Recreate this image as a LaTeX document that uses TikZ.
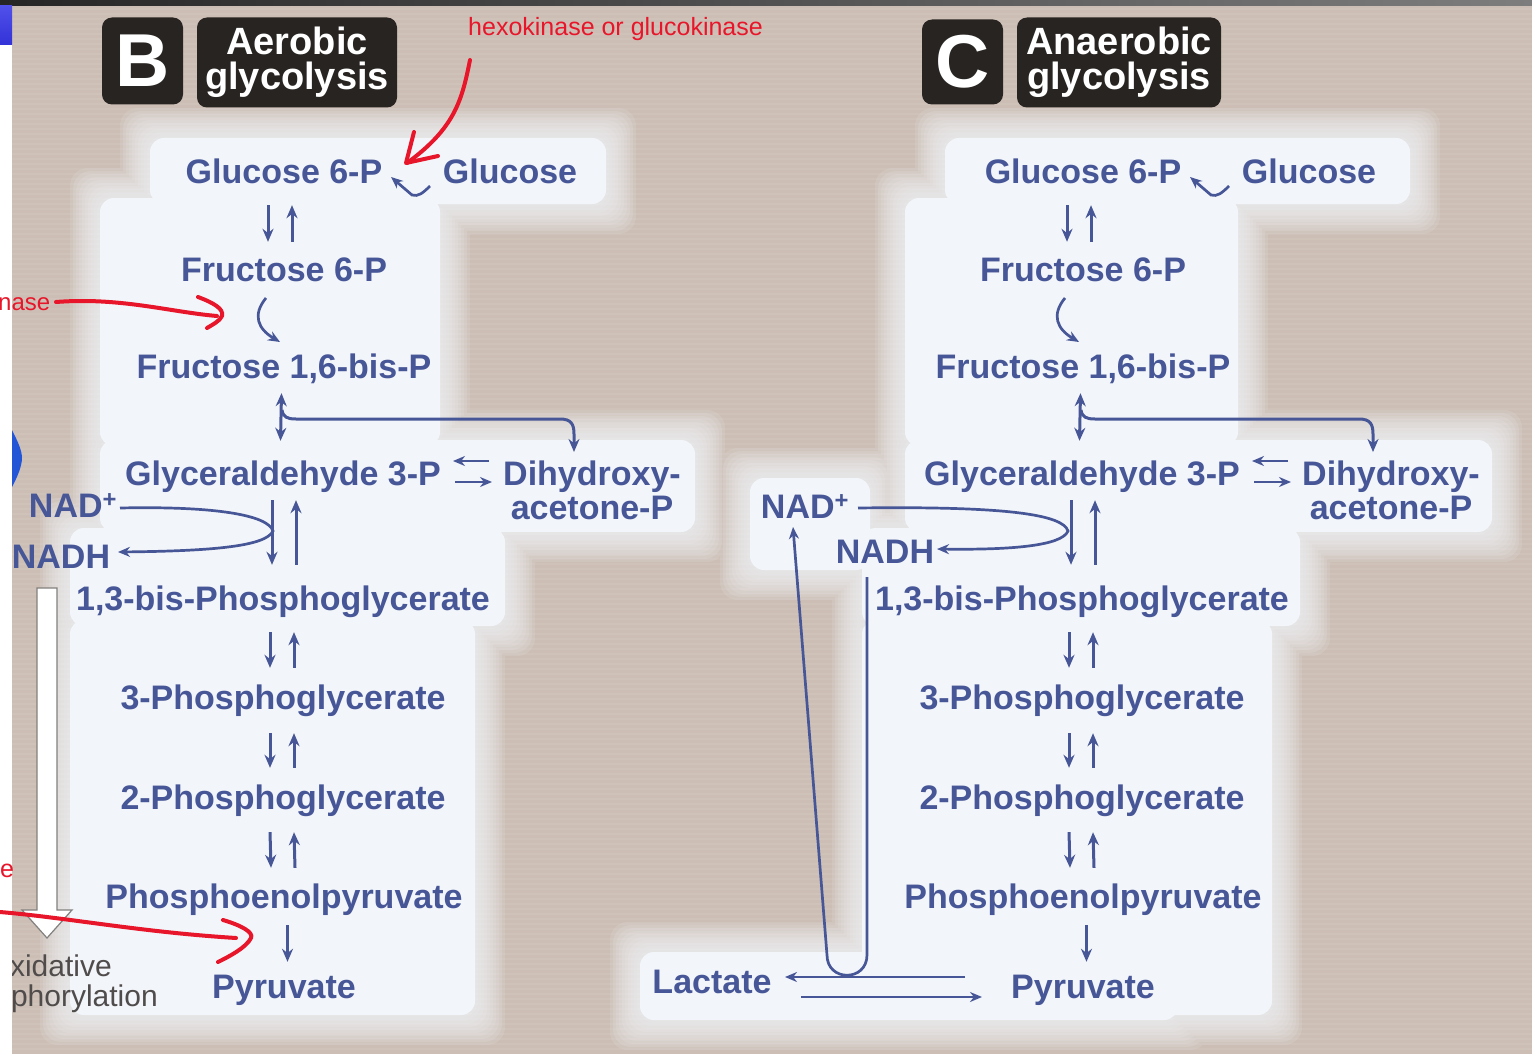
\documentclass[tikz,border=0pt]{standalone}
\usepackage{fontspec}
\setmainfont{Liberation Sans}
\usetikzlibrary{arrows.meta}
\definecolor{bgc}{RGB}{204,190,180}
\definecolor{glowc}{RGB}{242,245,250}
\definecolor{labc}{RGB}{70,86,150}
\definecolor{redc}{RGB}{232,22,42}
\definecolor{badgec}{RGB}{40,36,34}
\definecolor{oxc}{RGB}{80,76,76}
\definecolor{chevc}{RGB}{35,85,215}
\definecolor{arrgray}{RGB}{130,128,126}
\tikzset{
  lbl/.style={text=labc, font=\fontsize{34}{38}\selectfont\bfseries, inner sep=0pt, anchor=base, text height=25pt, text depth=7pt},
  rx/.style={draw=labc, line width=3pt, -{Stealth[length=13pt,width=11pt]}},
  rxs/.style={draw=labc, line width=2.7pt, -{Stealth[length=12pt,width=10pt]}},
  rxx/.style={draw=labc, line width=3pt, {Stealth[length=13pt,width=11pt]}-{Stealth[length=13pt,width=11pt]}},
  redline/.style={draw=redc, line width=4pt, line cap=round, line join=round},
  redtext/.style={text=redc, font=\fontsize{25}{28}\selectfont, inner sep=0pt},
  badgebox/.style={fill=badgec, rounded corners=10pt, text=white, inner sep=0pt},
  oxtext/.style={text=oxc, font=\fontsize{30}{32}\selectfont, inner sep=0pt},
  glowpath/.style={insert path={
    ({150-#1},{138-#1}) rectangle ({606+#1},{204+#1})
    ({100-#1},{198-#1}) rectangle ({440+#1},{446+#1})
    ({100-#1},{440-#1}) rectangle ({695+#1},{532+#1})
    ({70-#1},{528-#1}) rectangle ({505+#1},{626+#1})
    ({70-#1},{620-#1}) rectangle ({475+#1},{1015+#1})
    ({945-#1},{138-#1}) rectangle ({1410+#1},{204+#1})
    ({905-#1},{198-#1}) rectangle ({1238+#1},{446+#1})
    ({905-#1},{440-#1}) rectangle ({1492+#1},{532+#1})
    ({862-#1},{528-#1}) rectangle ({1300+#1},{626+#1})
    ({862-#1},{620-#1}) rectangle ({1272+#1},{1015+#1})
    ({640-#1},{952-#1}) rectangle ({1178+#1},{1020+#1})
    ({750-#1},{478-#1}) rectangle ({870+#1},{570+#1})
  }}
}
\begin{document}
\begin{tikzpicture}[x=1pt,y=-1pt]
\useasboundingbox (0,0) rectangle (1532,1054);
\fill[bgc] (0,0) rectangle (1532,1054);
\foreach \yy in {9,14,...,1050}{\draw[white, opacity=0.07, line width=1.3pt] (12,\yy) -- (1532,\yy);}
% soft whitish glow behind the pathways
\foreach \e in {30,27,...,3}{\fill[glowc, opacity=0.13, rounded corners=18pt, glowpath=\e];}
\fill[glowc, rounded corners=14pt, glowpath=0];
% top bar
\shade[left color={rgb,255:red,38;green,38;blue,38}, right color={rgb,255:red,125;green,125;blue,125}] (0,0) rectangle (1532,6);
\shade[top color={rgb,255:red,80;green,80;blue,235}, bottom color={rgb,255:red,50;green,50;blue,215}] (0,6) rectangle (12,45);

% headers
\node[badgebox, minimum width=81pt, minimum height=87pt, font=\fontsize{75}{75}\selectfont\bfseries] (hB) at (142.5,61) {B};
\node[badgebox, minimum width=200pt, minimum height=90pt, align=center, font=\fontsize{38}{35}\selectfont\bfseries] (hBt) at (297,62.5) {Aerobic\\glycolysis};
\node[badgebox, minimum width=81pt, minimum height=85pt, font=\fontsize{75}{75}\selectfont\bfseries] (hC) at (962.5,62) {C};
\node[badgebox, minimum width=204pt, minimum height=90pt, align=center, font=\fontsize{38}{35}\selectfont\bfseries] (hCt) at (1119,62.5) {Anaerobic\\glycolysis};

% both pathways
\foreach \o/\p in {0/B,799/C}{
  \node[lbl] (g6p\p) at ({284+\o},184) {Glucose 6-P};
  \node[lbl] (glc\p) at ({510+\o},184) {Glucose};
  \node[lbl] (f6p\p) at ({284+\o},281) {Fructose 6-P};
  \node[lbl] (fbp\p) at ({284+\o},378) {Fructose 1,6-bis-P};
  \node[lbl] (gap\p) at ({283+\o},485) {Glyceraldehyde 3-P};
  \node[lbl] (dha\p) at ({592+\o},485) {Dihydroxy-};
  \node[lbl] (dhb\p) at ({592+\o},519) {acetone-P};
  \node[lbl] (bpg\p) at ({283+\o},610) {1,3-bis-Phosphoglycerate};
  \node[lbl] (pgc\p) at ({283+\o},709) {3-Phosphoglycerate};
  \node[lbl] (pgb\p) at ({283+\o},809) {2-Phosphoglycerate};
  \node[lbl] (pep\p) at ({284+\o},908) {Phosphoenolpyruvate};
  \node[lbl] (pyr\p) at ({284+\o},998) {Pyruvate};
  % glucose -> glucose 6-P hook
  \draw[rxs] ({430+\o},186) .. controls ({423+\o},193) and ({418+\o},197) .. ({412+\o},195) -- ({391+\o},177);
  % G6P <-> F6P
  \draw[rx] ([xshift=-16pt,yshift=-14pt]g6p\p.south) -- ([xshift=-16pt,yshift=14pt]f6p\p.north);
  \draw[rx] ([xshift=8pt,yshift=14pt]f6p\p.north) -- ([xshift=8pt,yshift=-14pt]g6p\p.south);
  % F6P -> F1,6bP hook
  \draw[rxs] ({266+\o},298) .. controls ({252+\o},315) and ({258+\o},329) .. ({280+\o},342);
  % F1,6bP <-> GAP with branch to DHAP
  \draw[rxx] ([xshift=-2.5pt,yshift=-8pt]fbp\p.south) -- ([xshift=-2.5pt,yshift=19pt]gap\p.north);
  \draw[rx] ({282+\o},410) .. controls ({283+\o},417) and ({287+\o},419) .. ({296+\o},419) -- ({560+\o},419) .. controls ({571+\o},419) and ({574+\o},424) .. ({574+\o},434) -- ({574+\o},452);
  % GAP <-> DHAP
  \draw[rxs] ({489+\o},461) -- ({453+\o},461);
  \draw[rxs] ({455+\o},482) -- ({492+\o},482);
  % GAP <-> 1,3-bPG
  \draw[rx] ([xshift=-11pt,yshift=-8pt]gap\p.south) -- ([xshift=-11pt,yshift=20pt]bpg\p.north);
  \draw[rx] ([xshift=13pt,yshift=20pt]bpg\p.north) -- ([xshift=13pt,yshift=-8pt]gap\p.south);
  % 1,3-bPG <-> 3PG
  \draw[rx] ([xshift=-13pt,yshift=-15pt]bpg\p.south) -- ([xshift=-13pt,yshift=16pt]pgc\p.north);
  \draw[rx] ([xshift=11pt,yshift=16pt]pgc\p.north) -- ([xshift=11pt,yshift=-15pt]bpg\p.south);
  % 3PG <-> 2PG
  \draw[rx] ([xshift=-13pt,yshift=-17pt]pgc\p.south) -- ([xshift=-13pt,yshift=16pt]pgb\p.north);
  \draw[rx] ([xshift=11pt,yshift=16pt]pgb\p.north) -- ([xshift=11pt,yshift=-17pt]pgc\p.south);
  % 2PG <-> PEP
  \draw[rx] ([xshift=-13pt,yshift=-16pt]pgb\p.south) -- ([xshift=-13pt,yshift=15pt]pep\p.north);
  \draw[rx] ([xshift=11pt,yshift=15pt]pep\p.north) -- ([xshift=11pt,yshift=-16pt]pgb\p.south);
  % PEP -> pyruvate
  \draw[rx] ([xshift=3.5pt,yshift=-10pt]pep\p.south) -- ([xshift=3.5pt,yshift=11pt]pyr\p.north);
}

% NAD / NADH, panel B
\node[lbl] (nadB) at (73,517) {NAD\textsuperscript{+}};
\node[lbl] (nadhB) at (61,568) {NADH};
\draw[rxs] (120,508) .. controls (215,506) and (268,515) .. (273,531) .. controls (266,546) and (215,551) .. (118,552);

% NAD / NADH and lactate, panel C
\node[lbl] (nadC) at (805,518) {NAD\textsuperscript{+}};
\node[lbl] (nadhC) at (885,563) {NADH};
\draw[rxs] (858,508) .. controls (1010,506) and (1063,515) .. (1068,531) .. controls (1062,546) and (1010,550) .. (937,549);
\node[lbl] (lacC) at (712,993) {Lactate};
\draw[rxs] (965,977) -- (785,977);
\draw[rxs] (801,997) -- (982,997);
\draw[rxs] (867,577) -- (867,955) .. controls (867,982) and (827,982) .. (827,955) -- (793,527);

% oxidative phosphorylation arrow (panel B)
\draw[draw=arrgray, fill=white, line width=1.2pt] (37,588) -- (57,588) -- (57,910) -- (72,910) -- (47,938) -- (22,910) -- (37,910) -- cycle;
\node[oxtext, anchor=base east] (oxa) at (112,976) {xidative};
\node[oxtext, anchor=base east] (oxb) at (158,1006) {phorylation};

% left white strip and blue tab
\fill[white] (0,45) rectangle (12,1054);
\fill[chevc] (12,430) .. controls (17,440) and (22,450) .. (22,458) .. controls (22,466) and (17,478) .. (12,487) -- cycle;

% red annotations
\node[redtext, anchor=base west] (hexo) at (468,36) {hexokinase or glucokinase};
\draw[redline] (470,60) .. controls (462,100) and (455,128) .. (407,163);
\draw[redline] (414,132) -- (406,163) -- (438,156);
\node[redtext, anchor=base west, font=\fontsize{24}{26}\selectfont] (nase) at (-2,310) {nase};
\draw[redline] (56,302) .. controls (120,297) and (170,312) .. (217,316);
\draw[redline] (198,297) .. controls (214,303) and (224,309) .. (222,316) .. controls (220,321) and (212,325) .. (207,328);
\node[redtext, anchor=base west] (ee) at (0,877) {e};
\draw[redline] (0,912) .. controls (70,918) and (140,932) .. (236,938);
\draw[redline] (223,920) .. controls (240,925) and (254,932) .. (251,938) .. controls (246,948) and (228,957) .. (218,962);
\end{tikzpicture}
\end{document}
